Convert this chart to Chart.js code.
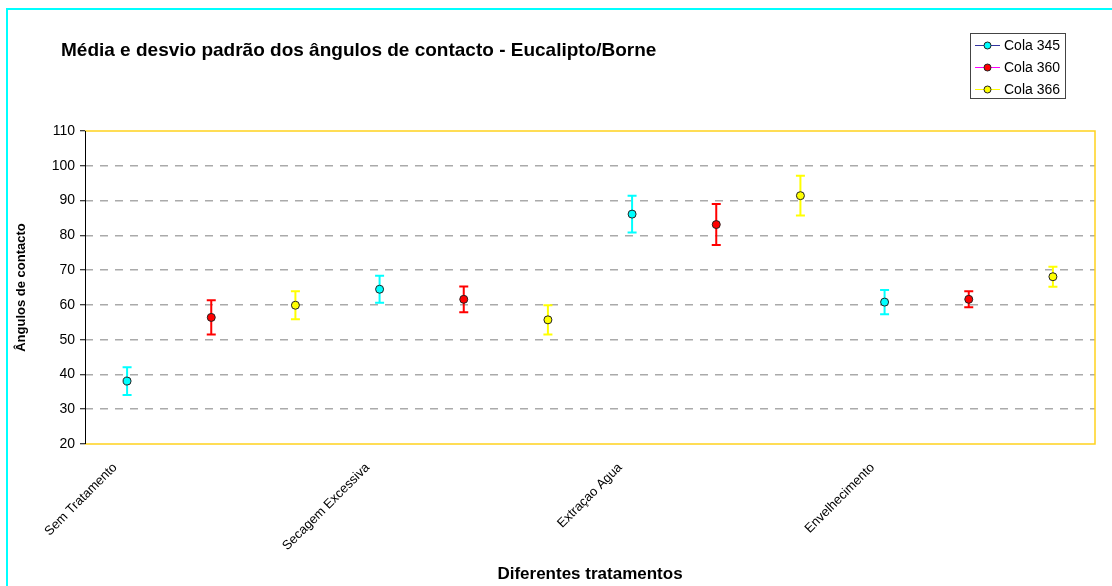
<!DOCTYPE html>
<html>
<head>
<meta charset="utf-8">
<script src="https://cdn.jsdelivr.net/npm/chart.js@4.4.0/dist/chart.umd.min.js"></script>
<style>
html, body { margin: 0; padding: 0; background: #fff; }
#wrap { width: 1112px; height: 586px; }
</style>
</head>
<body>
<div id="wrap"><canvas id="errChart"></canvas></div>
<script>
// data
const treatments = ['Sem Tratamento', 'Secagem Excessiva', 'Extraçao Agua', 'Envelhecimento'];
const seriesNames = ['Cola 345', 'Cola 360', 'Cola 366'];
const cola345 = [38.1, 64.5, 86.1, 60.8];
const sd345 = [4.0, 3.9, 5.3, 3.5];
const cola360 = [56.4, 61.6, 83.1, 61.6];
const sd360 = [4.9, 3.7, 5.9, 2.3];
const cola366 = [59.9, 55.7, 91.4, 68.1];
const sd366 = [4.0, 4.2, 5.7, 2.9];
const yMin = 20, yMax = 110, yStep = 10;

const fillColors = ['#00ffff', '#ff0000', '#ffff00'];
const legendLineColors = ['#3333a0', '#ff00ff', '#ffff00'];
const FONT = "'Liberation Sans', Arial, sans-serif";

// every treatment takes three slots on the x axis, one per glue
const means = [cola345, cola360, cola366];
const sds = [sd345, sd360, sd366];
const categories = [];
treatments.forEach(t => {
    seriesNames.forEach((s, j) => categories.push(j === 0 ? t : ''));
});

function slotData(arr, j) {
    const out = new Array(categories.length).fill(null);
    arr.forEach((v, i) => { out[i * 3 + j] = v; });
    return out;
}

const datasets = seriesNames.map((name, j) => ({
    label: name,
    data: slotData(means[j], j),
    errors: slotData(sds[j], j),
    showLine: false,
    pointRadius: 4,
    pointHoverRadius: 4,
    pointBorderWidth: 1,
    pointBorderColor: '#222',
    pointBackgroundColor: fillColors[j],
    borderColor: legendLineColors[j],
    errColor: fillColors[j]
}));

const errorBars = {
    id: 'errorBars',
    beforeDatasetsDraw(chart) {
        const ctx = chart.ctx;
        const y = chart.scales.y;
        chart.data.datasets.forEach((ds, di) => {
            const meta = chart.getDatasetMeta(di);
            ds.data.forEach((v, k) => {
                if (v === null) return;
                const px = meta.data[k].x;
                const top = y.getPixelForValue(v + ds.errors[k]);
                const bot = y.getPixelForValue(v - ds.errors[k]);
                ctx.save();
                ctx.strokeStyle = ds.errColor;
                ctx.lineWidth = 2;
                ctx.beginPath();
                ctx.moveTo(px, top); ctx.lineTo(px, bot);
                ctx.moveTo(px - 4.5, top); ctx.lineTo(px + 4.5, top);
                ctx.moveTo(px - 4.5, bot); ctx.lineTo(px + 4.5, bot);
                ctx.stroke();
                ctx.restore();
            });
        });
    }
};

const decor = {
    id: 'decor',
    beforeDraw(chart) {
        const ctx = chart.ctx;
        ctx.save();
        ctx.fillStyle = '#fff';
        ctx.fillRect(0, 0, chart.width, chart.height);
        ctx.strokeStyle = '#00ffff';
        ctx.lineWidth = 2;
        ctx.beginPath();
        ctx.moveTo(7, 586); ctx.lineTo(7, 9); ctx.lineTo(1112, 9);
        ctx.stroke();
        ctx.restore();
    },
    afterDatasetsDraw(chart) {
        const ctx = chart.ctx;
        const a = chart.chartArea;
        ctx.save();
        ctx.strokeStyle = '#ffd21e';
        ctx.lineWidth = 1.5;
        ctx.beginPath();
        ctx.moveTo(a.left, a.top); ctx.lineTo(a.right, a.top);
        ctx.lineTo(a.right, a.bottom); ctx.lineTo(a.left, a.bottom);
        ctx.stroke();
        ctx.strokeStyle = '#000';
        ctx.lineWidth = 1;
        ctx.beginPath();
        ctx.moveTo(a.left + 0.5, a.top); ctx.lineTo(a.left + 0.5, a.bottom);
        ctx.stroke();
        ctx.restore();
    },
    afterDraw(chart) {
        const ctx = chart.ctx;
        ctx.save();
        // title
        ctx.fillStyle = '#000';
        ctx.font = 'bold 19px ' + FONT;
        ctx.textBaseline = 'alphabetic';
        ctx.textAlign = 'left';
        ctx.fillText('Média e desvio padrão dos ângulos de contacto - Eucalipto/Borne', 61, 56);
        // legend
        ctx.strokeStyle = '#444';
        ctx.lineWidth = 1;
        ctx.strokeRect(970.5, 33.5, 95, 65);
        ctx.font = '14px ' + FONT;
        ctx.textBaseline = 'middle';
        seriesNames.forEach((name, j) => {
            const ly = 45 + j * 22;
            ctx.strokeStyle = legendLineColors[j];
            ctx.beginPath();
            ctx.moveTo(975, ly + 0.5); ctx.lineTo(1000, ly + 0.5);
            ctx.stroke();
            ctx.beginPath();
            ctx.arc(987.5, ly + 0.5, 3.5, 0, Math.PI * 2);
            ctx.fillStyle = fillColors[j];
            ctx.fill();
            ctx.strokeStyle = '#222';
            ctx.stroke();
            ctx.fillStyle = '#000';
            ctx.fillText(name, 1004, ly + 1);
        });
        ctx.restore();
    }
};

const ctx = document.getElementById('errChart').getContext('2d');
const errChart = new Chart(ctx, {
    type: 'line',
    data: { labels: categories, datasets: datasets },
    options: {
        responsive: true,
        maintainAspectRatio: false,
        animation: false,
        events: [],
        layout: { padding: { top: 131, right: 17, left: 10, bottom: 1 } },
        plugins: {
            legend: { display: false },
            title: { display: false },
            tooltip: { enabled: false }
        },
        scales: {
            x: {
                type: 'category',
                offset: true,
                grid: { display: false, drawTicks: false },
                border: { display: false },
                ticks: {
                    autoSkip: false,
                    maxRotation: 45,
                    minRotation: 45,
                    padding: 16,
                    labelOffset: -12,
                    color: '#000',
                    font: { family: FONT, size: 13 },
                    callback: (v, i) => categories[i]
                },
                title: {
                    display: true,
                    text: 'Diferentes tratamentos',
                    color: '#000',
                    font: { family: FONT, size: 17, weight: 'bold' },
                    padding: { top: 0, bottom: 0 }
                },
                afterFit: s => { s.height = 586 - 444 - 1; }
            },
            y: {
                min: yMin,
                max: yMax,
                ticks: {
                    stepSize: yStep,
                    padding: 5,
                    color: '#000',
                    font: { family: FONT, size: 14 }
                },
                grid: {
                    color: c => (c.tick && (c.tick.value === yMin || c.tick.value === yMax)) ? 'rgba(0,0,0,0)' : '#aaaaaa',
                    lineWidth: 1.5,
                    tickColor: '#000',
                    tickLength: 5,
                    tickWidth: 1,
                    tickBorderDash: []
                },
                border: { display: false, dash: [8, 7] },
                title: {
                    display: true,
                    text: 'Ângulos de contacto',
                    color: '#000',
                    font: { family: FONT, size: 13, weight: 'bold' },
                    padding: { top: 4, bottom: 0 }
                },
                afterFit: s => { s.width = 85 - 10; }
            }
        }
    },
    plugins: [decor, errorBars]
});
</script>
</body>
</html>
